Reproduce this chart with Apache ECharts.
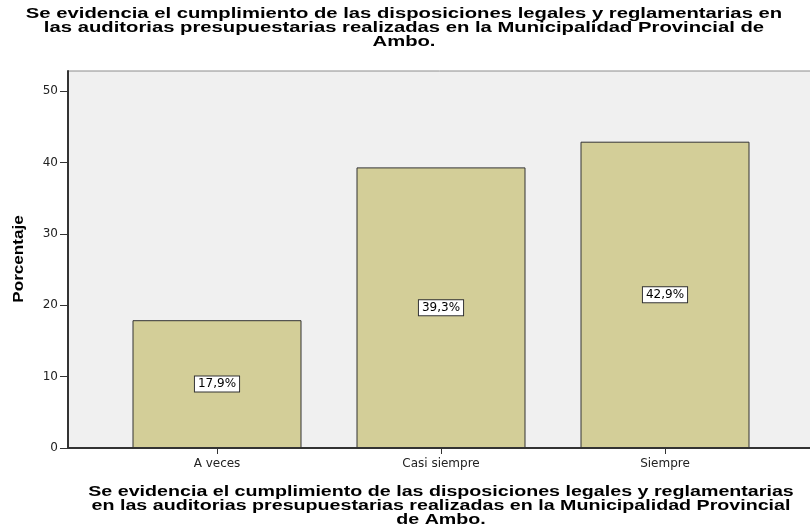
<!DOCTYPE html>
<html>
<head>
<meta charset="utf-8">
<script src="https://cdn.jsdelivr.net/npm/echarts@6/dist/echarts.min.js"></script>
<style>
  html, body { margin: 0; padding: 0; background: #fff; }
  #chart { width: 810px; height: 526px; }
</style>
</head>
<body>
<div id="chart"></div>
<script>
// datos del gráfico
const categorias = ['A veces', 'Casi siempre', 'Siempre'];
const porcentajes = [17.9, 39.3, 42.9];
const ticksY = [0, 10, 20, 30, 40, 50];

const titulo = 'Se evidencia el cumplimiento de las disposiciones legales y reglamentarias en\nlas auditorias presupuestarias realizadas en la Municipalidad Provincial de\nAmbo.';
const tituloEje = 'Se evidencia el cumplimiento de las disposiciones legales y reglamentarias\nen las auditorias presupuestarias realizadas en la Municipalidad Provincial\nde Ambo.';
const nombreY = 'Porcentaje';

const fuente = 'Liberation Sans, Arial, sans-serif';
const fuenteEtiq = 'DejaVu Sans, sans-serif';
const yMax = 52.8;

// texto en negrita estirado a lo ancho (como en SPSS)
function textoAncho(txt, x, y, escala, extra) {
  return Object.assign({
    type: 'text',
    x: x, y: y,
    scaleX: escala,
    silent: true,
    style: {
      text: txt,
      fontFamily: fuente,
      fontSize: 15,
      fontWeight: 'bold',
      lineHeight: 14,
      fill: '#000',
      align: 'center',
      verticalAlign: 'top'
    }
  }, extra || {});
}

const chart = echarts.init(document.getElementById('chart'));
chart.setOption({
  animation: false,
  textStyle: { fontFamily: fuenteEtiq },
  graphic: [
    textoAncho(titulo, 404, 7, 1.35),
    textoAncho(tituloEje, 441, 485, 1.31),
    textoAncho(nombreY, 19, 259, 1.22, { rotation: Math.PI / 2, style: {
      text: nombreY, fontFamily: fuente, fontSize: 14, fontWeight: 'bold', fill: '#000',
      align: 'center', verticalAlign: 'middle'
    } })
  ],
  grid: [
    // fondo y eje Y
    { left: 68, top: 71, right: -6, bottom: 78, show: true, backgroundColor: '#f0f0f0',
      borderColor: '#8c8c8c', borderWidth: 1, outerBoundsMode: 'none' },
    // barras
    { left: 105, top: 71, width: 672, bottom: 78, outerBoundsMode: 'none' }
  ],
  xAxis: [
    {
      gridIndex: 0, type: 'category', data: [''],
      axisLine: { lineStyle: { color: '#333', width: 2 } },
      axisTick: { show: false }, axisLabel: { show: false }
    },
    {
      gridIndex: 1, type: 'category', data: categorias,
      axisLine: { show: false },
      axisTick: { show: true, alignWithLabel: true, length: 6, lineStyle: { color: '#333' } },
      axisLabel: { fontSize: 12, color: '#222', margin: 10 }
    }
  ],
  yAxis: [
    {
      gridIndex: 0, type: 'value', min: 0, max: yMax, interval: 10,
      axisLine: { show: true, lineStyle: { color: '#333', width: 2 } },
      axisTick: { show: true, length: 8, customValues: ticksY, lineStyle: { color: '#333' } },
      axisLabel: { fontSize: 12, color: '#222', margin: 10, customValues: ticksY },
      splitLine: { show: false }
    },
    {
      gridIndex: 1, type: 'value', min: 0, max: yMax, show: false, splitLine: { show: false }
    }
  ],
  series: [{
    type: 'bar',
    xAxisIndex: 1,
    yAxisIndex: 1,
    data: porcentajes,
    barWidth: 169,
    itemStyle: { color: '#d3ce98', borderColor: '#333', borderWidth: 1 },
    label: {
      show: true,
      position: 'inside',
      formatter: p => p.value.toFixed(1).replace('.', ',') + '%',
      fontSize: 12,
      color: '#000',
      backgroundColor: '#fff',
      borderColor: '#333',
      borderWidth: 1,
      padding: [2, 3, 1, 3]
    }
  }]
});
</script>
</body>
</html>
